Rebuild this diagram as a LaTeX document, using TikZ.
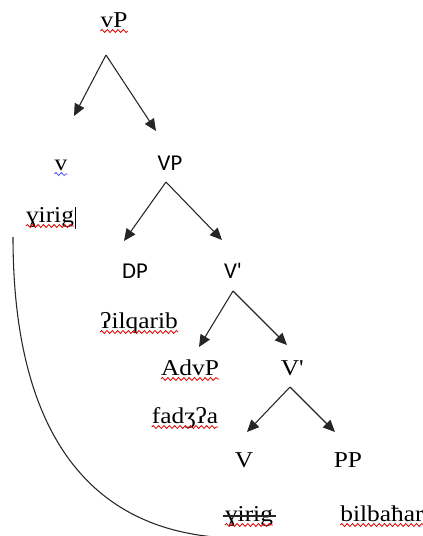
\documentclass[tikz,border=0pt]{standalone}
\usepackage{fontspec}
\setmainfont{Liberation Serif}[FakeStretch=1.12]
\newfontfamily\calib{Carlito}
\usetikzlibrary{arrows.meta,calc,decorations.pathmorphing}
\begin{document}
\begin{tikzpicture}[x=0.75pt,y=-0.75pt,
  lbl/.style={anchor=base,inner sep=0pt,font=\fontsize{17}{20}\selectfont},
  slbl/.style={lbl,font=\calib\fontsize{17}{20}\selectfont},
  branch/.style={draw=black!85,line width=0.8pt,-{Triangle[length=9pt,width=8pt]}},
  squig/.style={draw=red!85!black,line width=0.6pt,decorate,
    decoration={snake,amplitude=1.1pt,segment length=4pt}},
  bluesquig/.style={squig,draw=blue!70}]
\useasboundingbox (0,0) rectangle (422,536);

% tree labels
\node[lbl]  (vP)    at (114,27)  {vP};
\node[lbl]  (v)     at (61,170)  {v};
\node[slbl] (VP)    at (170,170) {VP};
\node[lbl]  (vw)    at (50,222)  {ɣirig};
\node[slbl] (DP)    at (135,278) {DP};
\node[slbl] (Vb1)   at (233,278) {V'};
\node[lbl]  (dpw)   at (139,328) {ʔilqarib};
\node[lbl]  (AdvP)  at (190,375) {AdvP};
\node[lbl]  (Vb2)   at (292,375) {V\textquotesingle};
\node[lbl]  (advw)  at (185,423) {fadʒʔa};
\node[lbl]  (V)     at (244,467) {V};
\node[lbl]  (PP)    at (348,467) {PP};
\node[lbl]  (vtr)   at (249,521) {ɣirig};
\node[lbl]  (ppw)   at (382,521) {bilbaħar};

% branching points and arrow tips
\coordinate (a1) at (106,55);  \coordinate (t1l) at (74,116);  \coordinate (t1r) at (156,131);
\coordinate (a2) at (166,182); \coordinate (t2l) at (124,241); \coordinate (t2r) at (222,240);
\coordinate (a3) at (233,291); \coordinate (t3l) at (199,347); \coordinate (t3r) at (287,345);
\coordinate (a4) at (290,387); \coordinate (t4l) at (247,432); \coordinate (t4r) at (335,432);

\draw[branch] (a1) -- (t1l);
\draw[branch] (a1) -- (t1r);
\draw[branch] (a2) -- (t2l);
\draw[branch] (a2) -- (t2r);
\draw[branch] (a3) -- (t3l);
\draw[branch] (a3) -- (t3r);
\draw[branch] (a4) -- (t4l);
\draw[branch] (a4) -- (t4r);

% movement line from the lower verb up to v
\coordinate (mtop) at (13,237);
\coordinate (mend) at (215,537);
\draw[black!85,line width=0.8pt] (mtop) .. controls (13,420) and (80,525) .. (mend);

% strike-through of the lower copy
\draw[black!85,line width=0.8pt] ($(vtr.base west)+(-2,-5)$) -- ($(vtr.base east)+(3,-5)$);

% text cursor
\draw[black,line width=0.7pt] ($(vw.base east)+(1,-15)$) -- ($(vw.base east)+(1,7)$);

% spell-check underlines
\foreach \n in {vP,vw,dpw,AdvP,advw,vtr,ppw}
  \draw[squig] ($(\n.base west)+(0,4)$) -- ($(\n.base east)+(0,4)$);
\draw[bluesquig] ($(v.base west)+(0,4)$) -- ($(v.base east)+(0,4)$);
\end{tikzpicture}
\end{document}
